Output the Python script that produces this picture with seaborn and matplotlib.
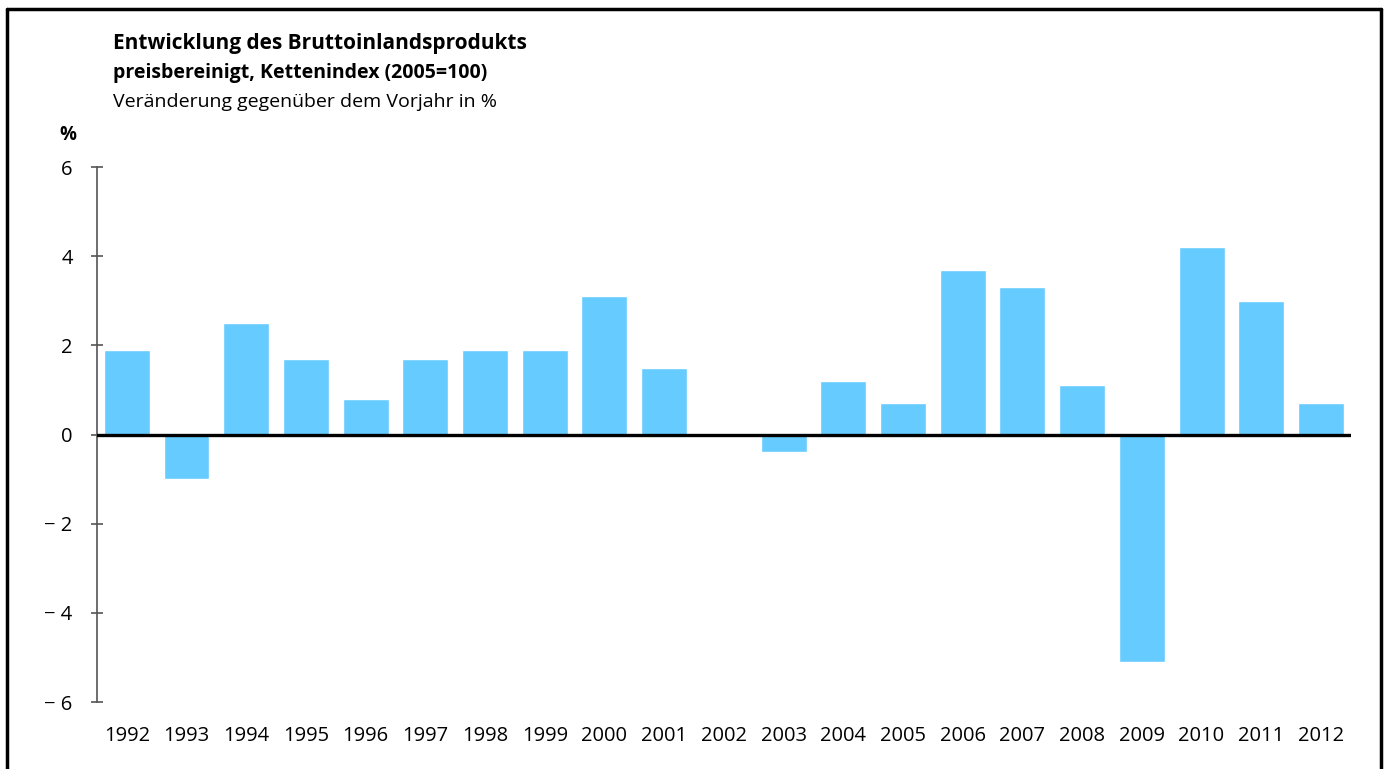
import pandas as pd
import matplotlib.pyplot as plt
import seaborn as sns
from matplotlib.lines import Line2D

years = [str(y) for y in range(1992, 2013)]
change = [1.9, -1.0, 2.5, 1.7, 0.8, 1.7, 1.9, 1.9, 3.1, 1.5, 0.0,
          -0.4, 1.2, 0.7, 3.7, 3.3, 1.1, -5.1, 4.2, 3.0, 0.7]
ytick_vals = [-6, -4, -2, 0, 2, 4, 6]
ytick_labels = ["\u2212 6", "\u2212 4", "\u2212 2", "0", "2", "4", "6"]

df = pd.DataFrame({"Jahr": years, "Veraenderung": change})

sns.set_style("white")
plt.rcParams['font.family'] = ['Open Sans', 'DejaVu Sans']
plt.rcParams['text.color'] = 'black'
plt.rcParams['xtick.labelcolor'] = 'black'
plt.rcParams['ytick.labelcolor'] = 'black'

fig = plt.figure(figsize=(13.87, 7.69), dpi=100)
ax = fig.add_axes([0.0699, 0.0871, 0.904, 0.6957])

sns.barplot(data=df, x="Jahr", y="Veraenderung", color="#66CCFF",
            saturation=1, width=0.77, ax=ax)

ax.set_xlim(-0.5, 20.5)
ax.set_ylim(-6, 6)
ax.axhline(0, color="black", lw=2.4, zorder=5)

for s in ["top", "right", "bottom"]:
    ax.spines[s].set_visible(False)
ax.spines["left"].set_color("#555555")
ax.spines["left"].set_linewidth(1.2)

ax.set_yticks(ytick_vals)
ax.set_yticklabels(ytick_labels)
ax.tick_params(axis="y", direction="inout", length=9, width=1.2, color="#555555",
               labelsize=14.5, pad=13, left=True)
ax.tick_params(axis="x", length=0, labelsize=14.5, pad=17)
ax.set_xlabel("")
ax.set_ylabel("")

# titles
fig.text(0.0815, 0.943, "Entwicklung des Bruttoinlandsprodukts", fontsize=15,
         fontweight="bold", va="center")
fig.text(0.0815, 0.905, "preisbereinigt, Kettenindex (2005=100)", fontsize=14,
         fontweight="bold", va="center")
fig.text(0.0815, 0.868, "Veränderung gegenüber dem Vorjahr in %", fontsize=14,
         va="center")
fig.text(0.043, 0.824, "%", fontsize=13.5, fontweight="bold", va="center")

# frame around figure
for xs, ys in [([0.0047, 0.0047], [-0.1, 0.988]),
               ([0.0047, 0.9957], [0.988, 0.988]),
               ([0.9957, 0.9957], [0.988, -0.1])]:
    fig.add_artist(Line2D(xs, ys, color="black", lw=2.5, transform=fig.transFigure))

fig.savefig("out.png", dpi=100)
